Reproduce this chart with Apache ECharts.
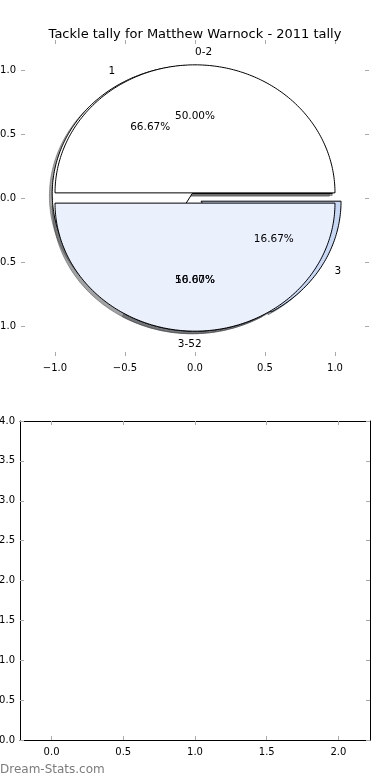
<!DOCTYPE html>
<html><head><meta charset="utf-8">
<script src="https://cdn.jsdelivr.net/npm/echarts@6/dist/echarts.min.js"></script>
<style>html,body{margin:0;padding:0;background:#fff}#c{width:390px;height:780px}</style>
</head><body><div id="c"></div><script>
// ---- data ----
const titleText = 'Tackle tally for Matthew Warnock - 2011 tally';
const pieALabels = ['0-2', '3-5'];
const pieAValues = [1, 1];
const pieBLabels = ['1', '2', '3'];
const pieBValues = [4, 1, 1];
const pieTicks = [-1, -0.5, 0, 0.5, 1];
const lowerXTicks = [0, 0.5, 1, 1.5, 2];
const lowerYTicks = [0, 0.5, 1, 1.5, 2, 2.5, 3, 3.5, 4];

// ---- style / layout constants ----
const pieAColors = ['#ffffff', '#eaf0fc'];
const pieBColors = ['#ffffff', '#eaf0fc', '#c6d8f6'];
const pieAExplode = [0.04, 0.04];
const pieBExplode = [0.04, 0.04, 0.05];
const pieALabelAlign = ['left', 'right'];
const pieBLabelAlign = ['right', 'left', 'left'];
const SHADOW = [-0.02, -0.02];
const FONT = 'DejaVu Sans';

function wedges(values, labels, colors, explode, aligns) {
  const total = values.reduce((a, b) => a + b, 0);
  let acc = 0;
  return values.map((v, i) => {
    const t1 = acc / total * 360; acc += v; const t2 = acc / total * 360;
    const mid = (t1 + t2) / 2 * Math.PI / 180;
    return {
      t1, t2, mid,
      cx: explode[i] * Math.cos(mid), cy: explode[i] * Math.sin(mid),
      color: colors[i], label: labels[i], align: aligns[i],
      pct: (v / total * 100).toFixed(2) + '%'
    };
  });
}
const WA = wedges(pieAValues, pieALabels, pieAColors, pieAExplode, pieALabelAlign);
const WB = wedges(pieBValues, pieBLabels, pieBColors, pieBExplode, pieBLabelAlign);

function shade(hex) {
  const n = parseInt(hex.slice(1), 16);
  const r = Math.round(((n >> 16) & 255) * 0.3), g = Math.round(((n >> 8) & 255) * 0.3), b = Math.round((n & 255) * 0.3);
  return 'rgba(' + r + ',' + g + ',' + b + ',0.5)';
}
function wedgePoints(api, w, dx, dy) {
  const pts = [api.coord([w.cx + dx, w.cy + dy])];
  const n = Math.max(4, Math.ceil(w.t2 - w.t1));
  for (let k = 0; k <= n; k++) {
    const a = (w.t1 + (w.t2 - w.t1) * k / n) * Math.PI / 180;
    pts.push(api.coord([w.cx + dx + Math.cos(a), w.cy + dy + Math.sin(a)]));
  }
  return pts;
}
function wedgeSeries(W, vals, shadow) {
  return {
    type: 'custom', xAxisIndex: 0, yAxisIndex: 0, clip: false, silent: true,
    data: vals.map((v, i) => [v, i]),
    renderItem: (params, api) => {
      const w = W[params.dataIndex];
      if (shadow) {
        return { type: 'polygon', shape: { points: wedgePoints(api, w, SHADOW[0], SHADOW[1]) },
          style: { fill: shade(w.color), stroke: shade(w.color), lineWidth: 1 } };
      }
      return { type: 'polygon', shape: { points: wedgePoints(api, w, 0, 0) },
        style: { fill: w.color, stroke: '#000', lineWidth: 1 } };
    }
  };
}
function labelSeries(W, vals) {
  return {
    type: 'custom', xAxisIndex: 0, yAxisIndex: 0, clip: false, silent: true, z: 5,
    data: vals.map((v, i) => [v, i]),
    renderItem: (params, api) => {
      const w = W[params.dataIndex];
      const c = Math.cos(w.mid), s = Math.sin(w.mid);
      const lp = api.coord([w.cx + 1.1 * c, w.cy + 1.1 * s]);
      const pp = api.coord([w.cx + 0.6 * c, w.cy + 0.6 * s]);
      return { type: 'group', children: [
        { type: 'text', x: lp[0], y: lp[1], style: { text: w.label, fill: '#000', fontSize: 10.5, fontFamily: FONT,
          align: w.align, verticalAlign: 'middle' } },
        { type: 'text', x: pp[0], y: pp[1], style: { text: w.pct, fill: '#000', fontSize: 10.5, fontFamily: FONT,
          align: 'center', verticalAlign: 'middle' } }
      ] };
    }
  };
}

const fmt = v => (Math.abs(v) < 1e-9 ? 0 : v).toFixed(1).replace('-', '\u2212');
const tickStyle = { inside: true, length: 4, lineStyle: { color: '#aaaaaa', width: 1 } };
function axis(kind, grid, pos, min, max, ticks, showLabel, showLine) {
  return {
    type: 'value', gridIndex: grid, position: pos, min, max, scale: true,
    splitLine: { show: false },
    axisLine: { show: showLine, onZero: false, lineStyle: { color: '#000', width: 1 } },
    axisTick: Object.assign({ customValues: ticks }, tickStyle),
    axisLabel: { show: showLabel, customValues: ticks, formatter: fmt, color: '#000', fontSize: 10,
      fontFamily: FONT, margin: kind === 'x' ? 7 : 5 }
  };
}

const chart = echarts.init(document.getElementById('c'), null, { renderer: 'canvas' });
chart.setOption({
  animation: false,
  backgroundColor: '#fff',
  title: { text: titleText, left: 'center', top: 23,
    textStyle: { fontSize: 13, fontWeight: 'normal', color: '#000', fontFamily: FONT } },
  grid: [
    { left: 21, right: 21, top: 40, height: 316, containLabel: false, outerBoundsMode: 'none' },
    { left: 20, right: 20, top: 421, bottom: 40, containLabel: false, outerBoundsMode: 'none' }
  ],
  xAxis: [
    axis('x', 0, 'bottom', -1.243, 1.243, pieTicks, true, false),
    axis('x', 0, 'top', -1.243, 1.243, pieTicks, false, false),
    axis('x', 1, 'bottom', -0.22, 2.22, lowerXTicks, true, true),
    axis('x', 1, 'top', -0.22, 2.22, lowerXTicks, false, true)
  ],
  yAxis: [
    axis('y', 0, 'left', -1.234, 1.234, pieTicks, true, false),
    axis('y', 0, 'right', -1.234, 1.234, pieTicks, false, false),
    axis('y', 1, 'left', 0, 4, lowerYTicks, true, true),
    axis('y', 1, 'right', 0, 4, lowerYTicks, false, true)
  ],
  graphic: [
    { type: 'text', left: 0, top: 764, style: { text: 'Dream-Stats.com', fill: '#7c7c7c', fontSize: 12,
      fontWeight: 'normal', fontFamily: FONT } }
  ],
  series: [
    wedgeSeries(WB, pieBValues, true),
    wedgeSeries(WA, pieAValues, true),
    wedgeSeries(WB, pieBValues, false),
    wedgeSeries(WA, pieAValues, false),
    labelSeries(WB, pieBValues),
    labelSeries(WA, pieAValues)
  ]
});
</script></body></html>
